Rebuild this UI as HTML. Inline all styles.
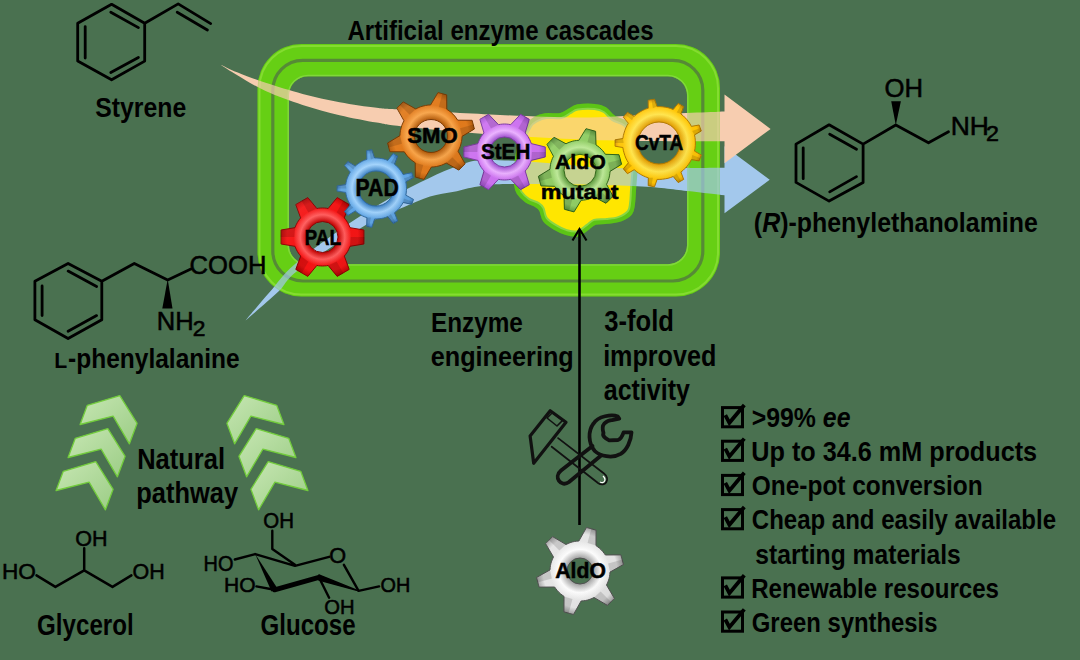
<!DOCTYPE html><html><head><meta charset="utf-8"><style>
html,body{margin:0;padding:0;background:#4a7150;width:1080px;height:660px;overflow:hidden}
svg{display:block}
text{font-family:"Liberation Sans",sans-serif}
</style></head><body>
<svg width="1080" height="660" viewBox="0 0 1080 660">
<defs>
<linearGradient id="gChev" x1="0" y1="0" x2="1" y2="1"><stop offset="0" stop-color="#c6e6b2"/><stop offset="1" stop-color="#9ccd86"/></linearGradient>
<linearGradient id="lit" x1="0" y1="0" x2="1" y2="1"><stop offset="0" stop-color="#fff" stop-opacity="0.12"/><stop offset="0.5" stop-color="#fff" stop-opacity="0"/><stop offset="1" stop-color="#000" stop-opacity="0.10"/></linearGradient>
</defs>

<g opacity="1.00">
<path d="M301.5,44.0 h374.5 a44.0,44.0 0 0 1 44.0,44.0 v164.5 a44.0,44.0 0 0 1 -44.0,44.0 h-374.5 a44.0,44.0 0 0 1 -44.0,-44.0 v-164.5 a44.0,44.0 0 0 1 44.0,-44.0 Z M308.0,76.2 h360.0 a19.0,19.0 0 0 1 19.0,19.0 v150.0 a19.0,19.0 0 0 1 -19.0,19.0 h-360.0 a19.0,19.0 0 0 1 -19.0,-19.0 v-150.0 a19.0,19.0 0 0 1 19.0,-19.0 Z" fill="#66cf14" fill-rule="evenodd"/>
<path d="M301.5,46.0 h374.5 a42.0,42.0 0 0 1 42.0,42.0 v164.5 a42.0,42.0 0 0 1 -42.0,42.0 h-374.5 a42.0,42.0 0 0 1 -42.0,-42.0 v-164.5 a42.0,42.0 0 0 1 42.0,-42.0 Z" fill="none" stroke="#84dc30" stroke-width="2"/>
<rect x="272.8" y="60.3" width="430" height="220.7" rx="30" fill="none" stroke="#568a36" stroke-width="3.2"/>
<path d="M308.2,75.4 h359.6 a20.0,20.0 0 0 1 20.0,20.0 v149.6 a20.0,20.0 0 0 1 -20.0,20.0 h-359.6 a20.0,20.0 0 0 1 -20.0,-20.0 v-149.6 a20.0,20.0 0 0 1 20.0,-20.0 Z" fill="none" stroke="#80d83a" stroke-width="1.5"/>
</g>
<g opacity="1.00">
<path d="M535.6,119.0 C538.3,117.5 541.1,116.4 545.3,115.8 C549.5,115.2 556.5,116.4 560.7,115.5 C564.9,114.6 567.4,112.0 570.3,110.6 C573.1,109.2 573.8,107.6 577.9,106.9 C582.1,106.2 590.8,106.0 595.2,106.5 C599.7,106.9 601.8,107.8 604.9,109.6 C607.9,111.5 609.9,115.5 613.5,117.8 C617.0,120.2 622.7,120.7 626.1,123.8 C629.5,126.8 632.2,130.2 633.8,136.3 C635.3,142.4 635.5,151.6 635.4,160.4 C635.4,169.2 634.0,181.9 633.5,189.2 C633.0,196.5 633.0,200.1 632.4,204.1 C631.8,208.0 632.0,210.3 630.0,212.8 C627.9,215.3 623.7,217.6 620.0,219.1 C616.2,220.5 611.5,220.7 607.3,221.3 C603.2,221.8 598.1,221.3 594.8,222.4 C591.5,223.4 590.4,225.5 587.5,227.5 C584.6,229.4 581.1,233.0 577.5,233.9 C574.0,234.8 570.0,233.7 566.3,232.6 C562.6,231.6 558.7,229.7 555.2,227.6 C551.7,225.4 547.5,222.9 545.3,220.0 C543.0,217.0 543.1,212.4 541.7,209.9 C540.3,207.4 539.3,206.6 536.7,205.0 C534.2,203.3 529.6,202.2 526.6,200.1 C523.7,198.1 520.8,195.4 519.1,192.7 C517.4,190.0 517.0,188.6 516.5,184.0 C516.1,179.4 515.8,172.3 516.6,165.2 C517.4,158.1 519.3,147.9 521.3,141.2 C523.3,134.5 526.5,128.5 528.9,124.8 C531.3,121.1 532.9,120.5 535.6,119.0 Z" fill="#66cc1e" stroke="#5cc416" stroke-width="5.2" stroke-linejoin="round"/>
<path d="M537.2,121.1 C539.9,119.6 542.5,118.5 546.6,118.0 C550.6,117.5 557.4,118.8 561.4,118.0 C565.4,117.2 567.8,114.6 570.5,113.2 C573.2,111.8 573.8,110.2 577.8,109.5 C581.8,108.8 590.2,108.6 594.5,109.0 C598.8,109.4 600.8,110.2 603.8,112.0 C606.7,113.8 608.6,117.7 612.0,119.9 C615.4,122.2 620.9,122.6 624.2,125.5 C627.4,128.5 630.1,131.7 631.5,137.6 C633.0,143.5 632.9,152.4 632.9,160.8 C632.8,169.3 631.5,181.4 631.1,188.4 C630.6,195.3 630.7,198.9 630.1,202.7 C629.6,206.5 629.9,208.8 627.9,211.2 C625.9,213.6 621.9,215.8 618.2,217.1 C614.6,218.4 610.0,218.6 606.0,219.1 C601.9,219.5 597.1,218.9 593.9,219.9 C590.8,220.9 589.7,223.0 587.0,224.9 C584.2,226.8 580.9,230.4 577.5,231.3 C574.1,232.2 570.3,231.1 566.7,230.1 C563.1,229.0 559.4,227.2 556.1,225.1 C552.7,223.1 548.7,220.6 546.6,217.8 C544.5,214.9 544.7,210.4 543.4,208.0 C542.1,205.5 541.1,204.8 538.7,203.2 C536.3,201.7 531.7,200.7 528.8,198.8 C526.0,196.9 523.2,194.3 521.5,191.8 C519.9,189.2 519.5,187.8 519.1,183.4 C518.7,179.0 518.4,172.2 519.2,165.4 C519.9,158.6 521.7,148.9 523.6,142.4 C525.5,136.0 528.5,130.2 530.8,126.6 C533.0,123.0 534.6,122.5 537.2,121.1 Z" fill="#ffe600" stroke="#8ad644" stroke-width="2" stroke-linejoin="round"/>
</g>
<path d="M245.5,320.5 C249.6,315.7 261.8,301.1 270.0,291.8 C278.2,282.5 281.3,275.9 294.5,264.5 C307.7,253.1 330.6,236.0 349.0,223.6 C367.4,211.2 385.5,200.1 405.0,190.0 C424.5,179.9 449.3,167.8 466.0,162.9 C482.7,158.0 489.3,160.3 505.0,160.5 C520.7,160.7 542.5,162.8 560.0,164.0 C577.5,165.2 582.6,167.4 610.0,168.0 C637.4,168.6 705.4,167.8 724.5,167.7 L724.5,146.3 L769.7,179.8 L724.5,213.3 L724.5,195.3 C718.2,194.6 702.4,192.6 687.0,191.0 C671.6,189.4 661.0,187.2 632.0,186.0 C603.0,184.8 538.7,183.9 513.0,184.0 C487.3,184.1 487.8,185.1 478.0,186.4 C468.2,187.7 462.0,190.1 454.0,191.8 C446.0,193.5 438.4,194.0 430.0,196.6 C421.6,199.2 413.9,202.8 403.6,207.3 C393.3,211.8 385.7,213.2 368.2,223.6 C350.7,234.0 313.6,258.6 298.6,270.0 C283.6,281.4 287.1,283.4 278.2,291.8 C269.3,300.2 250.9,315.7 245.5,320.5 Z" fill="#a3c8ec"/>
<path d="M219.3,63.9 C222.4,65.3 230.1,69.4 237.8,72.6 C245.5,75.8 254.8,79.2 265.6,82.8 C276.4,86.3 290.3,90.7 302.6,93.9 C314.9,97.1 327.2,99.9 339.6,102.2 C352.0,104.5 366.5,106.6 376.7,107.8 C386.9,109.0 381.8,108.5 400.7,109.6 C419.6,110.7 460.1,113.2 490.0,114.5 C519.9,115.8 553.3,117.5 580.0,117.5 C606.7,117.5 625.9,115.5 650.0,114.5 C674.1,113.5 712.1,112.0 724.5,111.5 L724.5,94.5 L770.6,128.9 L724.5,163.3 L724.5,141.2 C712.1,141.2 674.1,141.3 650.0,141.0 C625.9,140.7 606.7,140.5 580.0,139.4 C553.3,138.3 519.9,136.7 490.0,134.5 C460.1,132.3 419.6,128.3 400.7,126.3 C381.8,124.3 386.9,124.4 376.7,122.6 C366.5,120.8 352.0,118.1 339.6,115.2 C327.2,112.3 314.9,109.0 302.6,105.0 C290.3,101.0 276.4,96.0 265.6,91.1 C254.8,86.2 245.5,79.9 237.8,75.4 C230.1,70.9 222.4,65.8 219.3,63.9 Z" fill="#f7cdb0"/>
<g opacity="0.30">
<path d="M301.5,44.0 h374.5 a44.0,44.0 0 0 1 44.0,44.0 v164.5 a44.0,44.0 0 0 1 -44.0,44.0 h-374.5 a44.0,44.0 0 0 1 -44.0,-44.0 v-164.5 a44.0,44.0 0 0 1 44.0,-44.0 Z M308.0,76.2 h360.0 a19.0,19.0 0 0 1 19.0,19.0 v150.0 a19.0,19.0 0 0 1 -19.0,19.0 h-360.0 a19.0,19.0 0 0 1 -19.0,-19.0 v-150.0 a19.0,19.0 0 0 1 19.0,-19.0 Z" fill="#66cf14" fill-rule="evenodd"/>
<path d="M301.5,46.0 h374.5 a42.0,42.0 0 0 1 42.0,42.0 v164.5 a42.0,42.0 0 0 1 -42.0,42.0 h-374.5 a42.0,42.0 0 0 1 -42.0,-42.0 v-164.5 a42.0,42.0 0 0 1 42.0,-42.0 Z" fill="none" stroke="#84dc30" stroke-width="2"/>
<rect x="272.8" y="60.3" width="430" height="220.7" rx="30" fill="none" stroke="#568a36" stroke-width="3.2"/>
<path d="M308.2,75.4 h359.6 a20.0,20.0 0 0 1 20.0,20.0 v149.6 a20.0,20.0 0 0 1 -20.0,20.0 h-359.6 a20.0,20.0 0 0 1 -20.0,-20.0 v-149.6 a20.0,20.0 0 0 1 20.0,-20.0 Z" fill="none" stroke="#80d83a" stroke-width="1.5"/>
</g>
<g opacity="0.38">
<path d="M535.6,119.0 C538.3,117.5 541.1,116.4 545.3,115.8 C549.5,115.2 556.5,116.4 560.7,115.5 C564.9,114.6 567.4,112.0 570.3,110.6 C573.1,109.2 573.8,107.6 577.9,106.9 C582.1,106.2 590.8,106.0 595.2,106.5 C599.7,106.9 601.8,107.8 604.9,109.6 C607.9,111.5 609.9,115.5 613.5,117.8 C617.0,120.2 622.7,120.7 626.1,123.8 C629.5,126.8 632.2,130.2 633.8,136.3 C635.3,142.4 635.5,151.6 635.4,160.4 C635.4,169.2 634.0,181.9 633.5,189.2 C633.0,196.5 633.0,200.1 632.4,204.1 C631.8,208.0 632.0,210.3 630.0,212.8 C627.9,215.3 623.7,217.6 620.0,219.1 C616.2,220.5 611.5,220.7 607.3,221.3 C603.2,221.8 598.1,221.3 594.8,222.4 C591.5,223.4 590.4,225.5 587.5,227.5 C584.6,229.4 581.1,233.0 577.5,233.9 C574.0,234.8 570.0,233.7 566.3,232.6 C562.6,231.6 558.7,229.7 555.2,227.6 C551.7,225.4 547.5,222.9 545.3,220.0 C543.0,217.0 543.1,212.4 541.7,209.9 C540.3,207.4 539.3,206.6 536.7,205.0 C534.2,203.3 529.6,202.2 526.6,200.1 C523.7,198.1 520.8,195.4 519.1,192.7 C517.4,190.0 517.0,188.6 516.5,184.0 C516.1,179.4 515.8,172.3 516.6,165.2 C517.4,158.1 519.3,147.9 521.3,141.2 C523.3,134.5 526.5,128.5 528.9,124.8 C531.3,121.1 532.9,120.5 535.6,119.0 Z" fill="#66cc1e" stroke="#5cc416" stroke-width="5.2" stroke-linejoin="round"/>
<path d="M537.2,121.1 C539.9,119.6 542.5,118.5 546.6,118.0 C550.6,117.5 557.4,118.8 561.4,118.0 C565.4,117.2 567.8,114.6 570.5,113.2 C573.2,111.8 573.8,110.2 577.8,109.5 C581.8,108.8 590.2,108.6 594.5,109.0 C598.8,109.4 600.8,110.2 603.8,112.0 C606.7,113.8 608.6,117.7 612.0,119.9 C615.4,122.2 620.9,122.6 624.2,125.5 C627.4,128.5 630.1,131.7 631.5,137.6 C633.0,143.5 632.9,152.4 632.9,160.8 C632.8,169.3 631.5,181.4 631.1,188.4 C630.6,195.3 630.7,198.9 630.1,202.7 C629.6,206.5 629.9,208.8 627.9,211.2 C625.9,213.6 621.9,215.8 618.2,217.1 C614.6,218.4 610.0,218.6 606.0,219.1 C601.9,219.5 597.1,218.9 593.9,219.9 C590.8,220.9 589.7,223.0 587.0,224.9 C584.2,226.8 580.9,230.4 577.5,231.3 C574.1,232.2 570.3,231.1 566.7,230.1 C563.1,229.0 559.4,227.2 556.1,225.1 C552.7,223.1 548.7,220.6 546.6,217.8 C544.5,214.9 544.7,210.4 543.4,208.0 C542.1,205.5 541.1,204.8 538.7,203.2 C536.3,201.7 531.7,200.7 528.8,198.8 C526.0,196.9 523.2,194.3 521.5,191.8 C519.9,189.2 519.5,187.8 519.1,183.4 C518.7,179.0 518.4,172.2 519.2,165.4 C519.9,158.6 521.7,148.9 523.6,142.4 C525.5,136.0 528.5,130.2 530.8,126.6 C533.0,123.0 534.6,122.5 537.2,121.1 Z" fill="#ffe600" stroke="#8ad644" stroke-width="2" stroke-linejoin="round"/>
</g>
<radialGradient id="gr1" gradientUnits="userSpaceOnUse" cx="322.5" cy="237.0" r="42.0"><stop offset="0.369" stop-color="#c00000"/><stop offset="0.530" stop-color="#ff5a5a"/><stop offset="0.690" stop-color="#f41010"/><stop offset="0.845" stop-color="#f41010"/><stop offset="1" stop-color="#c00000"/></radialGradient>
<path d="M350.0,227.7 L363.9,230.0 L363.9,244.0 L350.0,246.3 L349.3,248.1 L348.5,249.8 L347.6,251.5 L346.6,253.1 L345.5,254.6 L344.3,256.1 L349.2,269.4 L337.2,276.4 L328.1,265.4 L326.3,265.8 L324.4,265.9 L322.5,266.0 L320.6,265.9 L318.7,265.8 L316.9,265.4 L307.8,276.4 L295.8,269.4 L300.7,256.1 L299.5,254.6 L298.4,253.1 L297.4,251.5 L296.5,249.8 L295.7,248.1 L295.0,246.3 L281.1,244.0 L281.1,230.0 L295.0,227.7 L295.7,225.9 L296.5,224.2 L297.4,222.5 L298.4,220.9 L299.5,219.4 L300.7,217.9 L295.8,204.6 L307.8,197.6 L316.9,208.6 L318.7,208.2 L320.6,208.1 L322.5,208.0 L324.4,208.1 L326.3,208.2 L328.1,208.6 L337.2,197.6 L349.2,204.6 L344.3,217.9 L345.5,219.4 L346.6,220.9 L347.6,222.5 L348.5,224.2 L349.3,225.9 Z M307.0,237.0 a15.5,15.5 0 1,0 31.0,0 a15.5,15.5 0 1,0 -31.0,0 Z" fill="url(#gr1)" fill-rule="evenodd" stroke="#900000" stroke-width="1" stroke-linejoin="round"/>
<path d="M350.0,227.7 L363.9,230.0 L363.9,244.0 L350.0,246.3 L349.3,248.1 L348.5,249.8 L347.6,251.5 L346.6,253.1 L345.5,254.6 L344.3,256.1 L349.2,269.4 L337.2,276.4 L328.1,265.4 L326.3,265.8 L324.4,265.9 L322.5,266.0 L320.6,265.9 L318.7,265.8 L316.9,265.4 L307.8,276.4 L295.8,269.4 L300.7,256.1 L299.5,254.6 L298.4,253.1 L297.4,251.5 L296.5,249.8 L295.7,248.1 L295.0,246.3 L281.1,244.0 L281.1,230.0 L295.0,227.7 L295.7,225.9 L296.5,224.2 L297.4,222.5 L298.4,220.9 L299.5,219.4 L300.7,217.9 L295.8,204.6 L307.8,197.6 L316.9,208.6 L318.7,208.2 L320.6,208.1 L322.5,208.0 L324.4,208.1 L326.3,208.2 L328.1,208.6 L337.2,197.6 L349.2,204.6 L344.3,217.9 L345.5,219.4 L346.6,220.9 L347.6,222.5 L348.5,224.2 L349.3,225.9 Z M307.0,237.0 a15.5,15.5 0 1,0 31.0,0 a15.5,15.5 0 1,0 -31.0,0 Z" fill="url(#lit)" fill-rule="evenodd"/>
<path d="M350.6,237.0 L364.5,237.0 L363.9,244.0 L350.0,246.3 Z M336.6,261.4 L343.5,273.4 L337.2,276.4 L328.1,265.4 Z M308.4,261.4 L301.5,273.4 L295.8,269.4 L300.7,256.1 Z M294.4,237.0 L280.5,237.0 L281.1,230.0 L295.0,227.7 Z M308.4,212.6 L301.5,200.6 L307.8,197.6 L316.9,208.6 Z M336.6,212.6 L343.5,200.6 L349.2,204.6 L344.3,217.9 Z" fill="#000" opacity="0.13"/>
<radialGradient id="gr2" gradientUnits="userSpaceOnUse" cx="376.0" cy="188.5" r="39.0"><stop offset="0.449" stop-color="#3a80c4"/><stop offset="0.615" stop-color="#a0d2fc"/><stop offset="0.782" stop-color="#5ea4e4"/><stop offset="0.891" stop-color="#5ea4e4"/><stop offset="1" stop-color="#3a80c4"/></radialGradient>
<path d="M345.7,192.4 L337.1,191.1 L337.1,185.9 L345.7,184.6 L346.1,182.4 L346.6,180.2 L347.3,178.1 L348.2,176.0 L349.2,174.0 L350.3,172.0 L344.5,165.5 L347.9,161.5 L355.3,166.1 L357.0,164.6 L358.8,163.3 L360.8,162.1 L362.7,161.0 L364.8,160.1 L366.9,159.4 L366.7,150.6 L371.8,149.7 L374.6,158.0 L376.8,158.0 L379.1,158.2 L381.3,158.5 L383.5,158.9 L385.7,159.6 L387.8,160.4 L393.2,153.5 L397.7,156.1 L394.5,164.2 L396.2,165.7 L397.9,167.2 L399.4,168.9 L400.7,170.7 L402.0,172.5 L403.1,174.5 L411.7,172.7 L413.5,177.6 L405.8,181.8 L406.2,184.0 L406.4,186.3 L406.5,188.5 L406.4,190.7 L406.2,193.0 L405.8,195.2 L413.5,199.4 L411.7,204.3 L403.1,202.5 L402.0,204.5 L400.7,206.3 L399.4,208.1 L397.9,209.8 L396.2,211.3 L394.5,212.8 L397.7,220.9 L393.2,223.5 L387.8,216.6 L385.7,217.4 L383.5,218.1 L381.3,218.5 L379.1,218.8 L376.8,219.0 L374.6,219.0 L371.8,227.3 L366.7,226.4 L366.9,217.6 L364.8,216.9 L362.7,216.0 L360.8,214.9 L358.8,213.7 L357.0,212.4 L355.3,210.9 L347.9,215.5 L344.5,211.5 L350.3,205.0 L349.2,203.0 L348.2,201.0 L347.3,198.9 L346.6,196.8 L346.1,194.6 Z M358.5,188.5 a17.5,17.5 0 1,0 35.0,0 a17.5,17.5 0 1,0 -35.0,0 Z" fill="url(#gr2)" fill-rule="evenodd" stroke="#30689c" stroke-width="1" stroke-linejoin="round"/>
<path d="M345.7,192.4 L337.1,191.1 L337.1,185.9 L345.7,184.6 L346.1,182.4 L346.6,180.2 L347.3,178.1 L348.2,176.0 L349.2,174.0 L350.3,172.0 L344.5,165.5 L347.9,161.5 L355.3,166.1 L357.0,164.6 L358.8,163.3 L360.8,162.1 L362.7,161.0 L364.8,160.1 L366.9,159.4 L366.7,150.6 L371.8,149.7 L374.6,158.0 L376.8,158.0 L379.1,158.2 L381.3,158.5 L383.5,158.9 L385.7,159.6 L387.8,160.4 L393.2,153.5 L397.7,156.1 L394.5,164.2 L396.2,165.7 L397.9,167.2 L399.4,168.9 L400.7,170.7 L402.0,172.5 L403.1,174.5 L411.7,172.7 L413.5,177.6 L405.8,181.8 L406.2,184.0 L406.4,186.3 L406.5,188.5 L406.4,190.7 L406.2,193.0 L405.8,195.2 L413.5,199.4 L411.7,204.3 L403.1,202.5 L402.0,204.5 L400.7,206.3 L399.4,208.1 L397.9,209.8 L396.2,211.3 L394.5,212.8 L397.7,220.9 L393.2,223.5 L387.8,216.6 L385.7,217.4 L383.5,218.1 L381.3,218.5 L379.1,218.8 L376.8,219.0 L374.6,219.0 L371.8,227.3 L366.7,226.4 L366.9,217.6 L364.8,216.9 L362.7,216.0 L360.8,214.9 L358.8,213.7 L357.0,212.4 L355.3,210.9 L347.9,215.5 L344.5,211.5 L350.3,205.0 L349.2,203.0 L348.2,201.0 L347.3,198.9 L346.6,196.8 L346.1,194.6 Z M358.5,188.5 a17.5,17.5 0 1,0 35.0,0 a17.5,17.5 0 1,0 -35.0,0 Z" fill="url(#lit)" fill-rule="evenodd"/>
<path d="M346.4,188.5 L337.0,188.5 L337.1,185.9 L345.7,184.6 Z M353.3,169.5 L346.1,163.4 L347.9,161.5 L355.3,166.1 Z M370.9,159.4 L369.2,150.1 L371.8,149.7 L374.6,158.0 Z M390.8,162.9 L395.5,154.7 L397.7,156.1 L394.5,164.2 Z M403.8,178.4 L412.6,175.2 L413.5,177.6 L405.8,181.8 Z M403.8,198.6 L412.6,201.8 L411.7,204.3 L403.1,202.5 Z M390.8,214.1 L395.5,222.3 L393.2,223.5 L387.8,216.6 Z M370.9,217.6 L369.2,226.9 L366.7,226.4 L366.9,217.6 Z M353.3,207.5 L346.1,213.6 L344.5,211.5 L350.3,205.0 Z" fill="#000" opacity="0.13"/>
<radialGradient id="gr3" gradientUnits="userSpaceOnUse" cx="431.0" cy="136.0" r="44.0"><stop offset="0.375" stop-color="#b05808"/><stop offset="0.540" stop-color="#f8a448"/><stop offset="0.705" stop-color="#e07818"/><stop offset="0.852" stop-color="#e07818"/><stop offset="1" stop-color="#b05808"/></radialGradient>
<path d="M457.7,120.2 L472.1,120.3 L474.4,129.0 L462.0,136.4 L461.9,139.0 L461.5,141.5 L460.9,144.0 L460.2,146.5 L459.2,148.9 L458.0,151.2 L465.1,163.8 L458.8,170.1 L446.2,163.0 L443.9,164.2 L441.5,165.2 L439.0,165.9 L436.5,166.5 L434.0,166.9 L431.4,167.0 L424.0,179.4 L415.3,177.1 L415.2,162.7 L413.0,161.2 L411.0,159.7 L409.1,157.9 L407.3,156.0 L405.8,154.0 L404.3,151.8 L389.9,151.7 L387.6,143.0 L400.0,135.6 L400.1,133.0 L400.5,130.5 L401.1,128.0 L401.8,125.5 L402.8,123.1 L404.0,120.8 L396.9,108.2 L403.2,101.9 L415.8,109.0 L418.1,107.8 L420.5,106.8 L423.0,106.1 L425.5,105.5 L428.0,105.1 L430.6,105.0 L438.0,92.6 L446.7,94.9 L446.8,109.3 L449.0,110.8 L451.0,112.3 L452.9,114.1 L454.7,116.0 L456.2,118.0 Z M414.5,136.0 a16.5,16.5 0 1,0 33.0,0 a16.5,16.5 0 1,0 -33.0,0 Z" fill="url(#gr3)" fill-rule="evenodd" stroke="#7a3a00" stroke-width="1" stroke-linejoin="round"/>
<path d="M457.7,120.2 L472.1,120.3 L474.4,129.0 L462.0,136.4 L461.9,139.0 L461.5,141.5 L460.9,144.0 L460.2,146.5 L459.2,148.9 L458.0,151.2 L465.1,163.8 L458.8,170.1 L446.2,163.0 L443.9,164.2 L441.5,165.2 L439.0,165.9 L436.5,166.5 L434.0,166.9 L431.4,167.0 L424.0,179.4 L415.3,177.1 L415.2,162.7 L413.0,161.2 L411.0,159.7 L409.1,157.9 L407.3,156.0 L405.8,154.0 L404.3,151.8 L389.9,151.7 L387.6,143.0 L400.0,135.6 L400.1,133.0 L400.5,130.5 L401.1,128.0 L401.8,125.5 L402.8,123.1 L404.0,120.8 L396.9,108.2 L403.2,101.9 L415.8,109.0 L418.1,107.8 L420.5,106.8 L423.0,106.1 L425.5,105.5 L428.0,105.1 L430.6,105.0 L438.0,92.6 L446.7,94.9 L446.8,109.3 L449.0,110.8 L451.0,112.3 L452.9,114.1 L454.7,116.0 L456.2,118.0 Z M414.5,136.0 a16.5,16.5 0 1,0 33.0,0 a16.5,16.5 0 1,0 -33.0,0 Z" fill="url(#lit)" fill-rule="evenodd"/>
<path d="M460.0,128.2 L473.5,124.6 L474.4,129.0 L462.0,136.4 Z M452.3,157.3 L462.1,167.1 L458.8,170.1 L446.2,163.0 Z M423.2,165.0 L419.6,178.5 L415.3,177.1 L415.2,162.7 Z M402.0,143.8 L388.5,147.4 L387.6,143.0 L400.0,135.6 Z M409.7,114.7 L399.9,104.9 L403.2,101.9 L415.8,109.0 Z M438.8,107.0 L442.4,93.5 L446.7,94.9 L446.8,109.3 Z" fill="#000" opacity="0.13"/>
<radialGradient id="gr4" gradientUnits="userSpaceOnUse" cx="504.6" cy="152.0" r="41.0"><stop offset="0.366" stop-color="#a050d0"/><stop offset="0.524" stop-color="#eab0ff"/><stop offset="0.683" stop-color="#cc70f0"/><stop offset="0.841" stop-color="#cc70f0"/><stop offset="1" stop-color="#a050d0"/></radialGradient>
<path d="M531.3,143.6 L545.3,147.0 L545.3,157.0 L531.3,160.4 L530.6,162.3 L529.8,164.2 L528.8,166.0 L527.8,167.7 L526.5,169.4 L525.2,171.0 L529.3,184.7 L520.6,189.7 L510.7,179.3 L508.7,179.7 L506.7,179.9 L504.6,180.0 L502.5,179.9 L500.5,179.7 L498.5,179.3 L488.6,189.7 L479.9,184.7 L484.0,171.0 L482.7,169.4 L481.4,167.7 L480.4,166.0 L479.4,164.2 L478.6,162.3 L477.9,160.4 L463.9,157.0 L463.9,147.0 L477.9,143.6 L478.6,141.7 L479.4,139.8 L480.4,138.0 L481.4,136.3 L482.7,134.6 L484.0,133.0 L479.9,119.3 L488.6,114.3 L498.5,124.7 L500.5,124.3 L502.5,124.1 L504.6,124.0 L506.7,124.1 L508.7,124.3 L510.7,124.7 L520.6,114.3 L529.3,119.3 L525.2,133.0 L526.5,134.6 L527.8,136.3 L528.8,138.0 L529.8,139.8 L530.6,141.7 Z M489.6,152.0 a15.0,15.0 0 1,0 30.0,0 a15.0,15.0 0 1,0 -30.0,0 Z" fill="url(#gr4)" fill-rule="evenodd" stroke="#7a3aa0" stroke-width="1" stroke-linejoin="round"/>
<path d="M531.3,143.6 L545.3,147.0 L545.3,157.0 L531.3,160.4 L530.6,162.3 L529.8,164.2 L528.8,166.0 L527.8,167.7 L526.5,169.4 L525.2,171.0 L529.3,184.7 L520.6,189.7 L510.7,179.3 L508.7,179.7 L506.7,179.9 L504.6,180.0 L502.5,179.9 L500.5,179.7 L498.5,179.3 L488.6,189.7 L479.9,184.7 L484.0,171.0 L482.7,169.4 L481.4,167.7 L480.4,166.0 L479.4,164.2 L478.6,162.3 L477.9,160.4 L463.9,157.0 L463.9,147.0 L477.9,143.6 L478.6,141.7 L479.4,139.8 L480.4,138.0 L481.4,136.3 L482.7,134.6 L484.0,133.0 L479.9,119.3 L488.6,114.3 L498.5,124.7 L500.5,124.3 L502.5,124.1 L504.6,124.0 L506.7,124.1 L508.7,124.3 L510.7,124.7 L520.6,114.3 L529.3,119.3 L525.2,133.0 L526.5,134.6 L527.8,136.3 L528.8,138.0 L529.8,139.8 L530.6,141.7 Z M489.6,152.0 a15.0,15.0 0 1,0 30.0,0 a15.0,15.0 0 1,0 -30.0,0 Z" fill="url(#lit)" fill-rule="evenodd"/>
<path d="M531.8,152.0 L545.6,152.0 L545.3,157.0 L531.3,160.4 Z M518.2,175.5 L525.1,187.5 L520.6,189.7 L510.7,179.3 Z M491.0,175.5 L484.1,187.5 L479.9,184.7 L484.0,171.0 Z M477.4,152.0 L463.6,152.0 L463.9,147.0 L477.9,143.6 Z M491.0,128.5 L484.1,116.5 L488.6,114.3 L498.5,124.7 Z M518.2,128.5 L525.1,116.5 L529.3,119.3 L525.2,133.0 Z" fill="#000" opacity="0.13"/>
<radialGradient id="gr5" gradientUnits="userSpaceOnUse" cx="580.0" cy="170.3" r="42.0"><stop offset="0.381" stop-color="#5c9a3c"/><stop offset="0.548" stop-color="#bce896"/><stop offset="0.714" stop-color="#8ecc62"/><stop offset="0.857" stop-color="#8ecc62"/><stop offset="1" stop-color="#5c9a3c"/></radialGradient>
<path d="M605.4,154.3 L619.0,154.7 L621.6,164.3 L610.0,171.4 L609.8,173.7 L609.5,175.9 L609.0,178.1 L608.3,180.2 L607.5,182.3 L606.5,184.3 L613.0,196.3 L606.0,203.3 L594.0,196.8 L592.0,197.8 L589.9,198.6 L587.8,199.3 L585.6,199.8 L583.4,200.1 L581.1,200.3 L574.0,211.9 L564.4,209.3 L564.0,195.7 L562.2,194.4 L560.4,193.0 L558.8,191.5 L557.3,189.9 L555.9,188.1 L554.6,186.3 L541.0,185.9 L538.4,176.3 L550.0,169.2 L550.2,166.9 L550.5,164.7 L551.0,162.5 L551.7,160.4 L552.5,158.3 L553.5,156.3 L547.0,144.3 L554.0,137.3 L566.0,143.8 L568.0,142.8 L570.1,142.0 L572.2,141.3 L574.4,140.8 L576.6,140.5 L578.9,140.3 L586.0,128.7 L595.6,131.3 L596.0,144.9 L597.8,146.2 L599.6,147.6 L601.2,149.1 L602.7,150.7 L604.1,152.5 Z M564.0,170.3 a16.0,16.0 0 1,0 32.0,0 a16.0,16.0 0 1,0 -32.0,0 Z" fill="url(#gr5)" fill-rule="evenodd" stroke="#2f6418" stroke-width="1" stroke-linejoin="round"/>
<path d="M605.4,154.3 L619.0,154.7 L621.6,164.3 L610.0,171.4 L609.8,173.7 L609.5,175.9 L609.0,178.1 L608.3,180.2 L607.5,182.3 L606.5,184.3 L613.0,196.3 L606.0,203.3 L594.0,196.8 L592.0,197.8 L589.9,198.6 L587.8,199.3 L585.6,199.8 L583.4,200.1 L581.1,200.3 L574.0,211.9 L564.4,209.3 L564.0,195.7 L562.2,194.4 L560.4,193.0 L558.8,191.5 L557.3,189.9 L555.9,188.1 L554.6,186.3 L541.0,185.9 L538.4,176.3 L550.0,169.2 L550.2,166.9 L550.5,164.7 L551.0,162.5 L551.7,160.4 L552.5,158.3 L553.5,156.3 L547.0,144.3 L554.0,137.3 L566.0,143.8 L568.0,142.8 L570.1,142.0 L572.2,141.3 L574.4,140.8 L576.6,140.5 L578.9,140.3 L586.0,128.7 L595.6,131.3 L596.0,144.9 L597.8,146.2 L599.6,147.6 L601.2,149.1 L602.7,150.7 L604.1,152.5 Z M564.0,170.3 a16.0,16.0 0 1,0 32.0,0 a16.0,16.0 0 1,0 -32.0,0 Z" fill="url(#lit)" fill-rule="evenodd"/>
<path d="M608.1,162.8 L620.6,159.4 L621.6,164.3 L610.0,171.4 Z M600.6,190.9 L609.7,200.0 L606.0,203.3 L594.0,196.8 Z M572.5,198.4 L569.1,210.9 L564.4,209.3 L564.0,195.7 Z M551.9,177.8 L539.4,181.2 L538.4,176.3 L550.0,169.2 Z M559.4,149.7 L550.3,140.6 L554.0,137.3 L566.0,143.8 Z M587.5,142.2 L590.9,129.7 L595.6,131.3 L596.0,144.9 Z" fill="#000" opacity="0.13"/>
<radialGradient id="gr6" gradientUnits="userSpaceOnUse" cx="659.0" cy="143.0" r="44.0"><stop offset="0.477" stop-color="#e09a00"/><stop offset="0.652" stop-color="#ffe44a"/><stop offset="0.827" stop-color="#ffc400"/><stop offset="0.914" stop-color="#ffc400"/><stop offset="1" stop-color="#e09a00"/></radialGradient>
<path d="M622.9,147.5 L615.1,146.2 L615.1,139.8 L622.9,138.5 L623.3,135.8 L624.0,133.2 L624.8,130.6 L625.8,128.0 L627.0,125.6 L628.4,123.2 L623.3,117.2 L627.4,112.3 L634.2,116.3 L636.3,114.6 L638.5,112.9 L640.8,111.5 L643.2,110.2 L645.7,109.1 L648.3,108.2 L648.2,100.3 L654.5,99.2 L657.1,106.6 L659.9,106.6 L662.6,106.8 L665.3,107.2 L668.0,107.7 L670.6,108.5 L673.2,109.5 L678.2,103.4 L683.7,106.6 L680.9,114.0 L683.1,115.7 L685.0,117.6 L686.9,119.6 L688.6,121.8 L690.1,124.0 L691.4,126.4 L699.1,125.0 L701.3,131.0 L694.5,134.9 L695.0,137.5 L695.3,140.3 L695.4,143.0 L695.3,145.7 L695.0,148.5 L694.5,151.1 L701.3,155.0 L699.1,161.0 L691.4,159.6 L690.1,162.0 L688.6,164.2 L686.9,166.4 L685.0,168.4 L683.1,170.3 L680.9,172.0 L683.7,179.4 L678.2,182.6 L673.2,176.5 L670.6,177.5 L668.0,178.3 L665.3,178.8 L662.6,179.2 L659.9,179.4 L657.1,179.4 L654.5,186.8 L648.2,185.7 L648.3,177.8 L645.7,176.9 L643.2,175.8 L640.8,174.5 L638.5,173.1 L636.3,171.4 L634.2,169.7 L627.4,173.7 L623.3,168.8 L628.4,162.8 L627.0,160.4 L625.8,158.0 L624.8,155.4 L624.0,152.8 L623.3,150.2 Z M638.0,143.0 a21.0,21.0 0 1,0 42.0,0 a21.0,21.0 0 1,0 -42.0,0 Z" fill="url(#gr6)" fill-rule="evenodd" stroke="#b07800" stroke-width="1" stroke-linejoin="round"/>
<path d="M622.9,147.5 L615.1,146.2 L615.1,139.8 L622.9,138.5 L623.3,135.8 L624.0,133.2 L624.8,130.6 L625.8,128.0 L627.0,125.6 L628.4,123.2 L623.3,117.2 L627.4,112.3 L634.2,116.3 L636.3,114.6 L638.5,112.9 L640.8,111.5 L643.2,110.2 L645.7,109.1 L648.3,108.2 L648.2,100.3 L654.5,99.2 L657.1,106.6 L659.9,106.6 L662.6,106.8 L665.3,107.2 L668.0,107.7 L670.6,108.5 L673.2,109.5 L678.2,103.4 L683.7,106.6 L680.9,114.0 L683.1,115.7 L685.0,117.6 L686.9,119.6 L688.6,121.8 L690.1,124.0 L691.4,126.4 L699.1,125.0 L701.3,131.0 L694.5,134.9 L695.0,137.5 L695.3,140.3 L695.4,143.0 L695.3,145.7 L695.0,148.5 L694.5,151.1 L701.3,155.0 L699.1,161.0 L691.4,159.6 L690.1,162.0 L688.6,164.2 L686.9,166.4 L685.0,168.4 L683.1,170.3 L680.9,172.0 L683.7,179.4 L678.2,182.6 L673.2,176.5 L670.6,177.5 L668.0,178.3 L665.3,178.8 L662.6,179.2 L659.9,179.4 L657.1,179.4 L654.5,186.8 L648.2,185.7 L648.3,177.8 L645.7,176.9 L643.2,175.8 L640.8,174.5 L638.5,173.1 L636.3,171.4 L634.2,169.7 L627.4,173.7 L623.3,168.8 L628.4,162.8 L627.0,160.4 L625.8,158.0 L624.8,155.4 L624.0,152.8 L623.3,150.2 Z M638.0,143.0 a21.0,21.0 0 1,0 42.0,0 a21.0,21.0 0 1,0 -42.0,0 Z" fill="url(#lit)" fill-rule="evenodd"/>
<path d="M623.7,143.0 L615.0,143.0 L615.1,139.8 L622.9,138.5 Z M632.0,120.3 L625.3,114.7 L627.4,112.3 L634.2,116.3 Z M652.9,108.2 L651.4,99.7 L654.5,99.2 L657.1,106.6 Z M676.7,112.4 L681.0,104.9 L683.7,106.6 L680.9,114.0 Z M692.2,130.9 L700.3,128.0 L701.3,131.0 L694.5,134.9 Z M692.2,155.1 L700.3,158.0 L699.1,161.0 L691.4,159.6 Z M676.7,173.6 L681.0,181.1 L678.2,182.6 L673.2,176.5 Z M652.9,177.8 L651.4,186.3 L648.2,185.7 L648.3,177.8 Z M632.0,165.7 L625.3,171.3 L623.3,168.8 L628.4,162.8 Z" fill="#000" opacity="0.13"/>
<radialGradient id="gr7" gradientUnits="userSpaceOnUse" cx="580.0" cy="571.0" r="44.0"><stop offset="0.295" stop-color="#a0a0a0"/><stop offset="0.489" stop-color="#fcfcfc"/><stop offset="0.682" stop-color="#e4e4e4"/><stop offset="0.841" stop-color="#e4e4e4"/><stop offset="1" stop-color="#a0a0a0"/></radialGradient>
<path d="M605.4,555.0 L620.9,554.9 L623.5,564.5 L610.0,572.1 L609.8,574.4 L609.5,576.6 L609.0,578.8 L608.3,580.9 L607.5,583.0 L606.5,585.0 L614.4,598.4 L607.4,605.4 L594.0,597.5 L592.0,598.5 L589.9,599.3 L587.8,600.0 L585.6,600.5 L583.4,600.8 L581.1,601.0 L573.5,614.5 L563.9,611.9 L564.0,596.4 L562.2,595.1 L560.4,593.7 L558.8,592.2 L557.3,590.6 L555.9,588.8 L554.6,587.0 L539.1,587.1 L536.5,577.5 L550.0,569.9 L550.2,567.6 L550.5,565.4 L551.0,563.2 L551.7,561.1 L552.5,559.0 L553.5,557.0 L545.6,543.6 L552.6,536.6 L566.0,544.5 L568.0,543.5 L570.1,542.7 L572.2,542.0 L574.4,541.5 L576.6,541.2 L578.9,541.0 L586.5,527.5 L596.1,530.1 L596.0,545.6 L597.8,546.9 L599.6,548.3 L601.2,549.8 L602.7,551.4 L604.1,553.2 Z M567.0,571.0 a13.0,13.0 0 1,0 26.0,0 a13.0,13.0 0 1,0 -26.0,0 Z" fill="url(#gr7)" fill-rule="evenodd" stroke="#505050" stroke-width="1" stroke-linejoin="round"/>
<path d="M605.4,555.0 L620.9,554.9 L623.5,564.5 L610.0,572.1 L609.8,574.4 L609.5,576.6 L609.0,578.8 L608.3,580.9 L607.5,583.0 L606.5,585.0 L614.4,598.4 L607.4,605.4 L594.0,597.5 L592.0,598.5 L589.9,599.3 L587.8,600.0 L585.6,600.5 L583.4,600.8 L581.1,601.0 L573.5,614.5 L563.9,611.9 L564.0,596.4 L562.2,595.1 L560.4,593.7 L558.8,592.2 L557.3,590.6 L555.9,588.8 L554.6,587.0 L539.1,587.1 L536.5,577.5 L550.0,569.9 L550.2,567.6 L550.5,565.4 L551.0,563.2 L551.7,561.1 L552.5,559.0 L553.5,557.0 L545.6,543.6 L552.6,536.6 L566.0,544.5 L568.0,543.5 L570.1,542.7 L572.2,542.0 L574.4,541.5 L576.6,541.2 L578.9,541.0 L586.5,527.5 L596.1,530.1 L596.0,545.6 L597.8,546.9 L599.6,548.3 L601.2,549.8 L602.7,551.4 L604.1,553.2 Z M567.0,571.0 a13.0,13.0 0 1,0 26.0,0 a13.0,13.0 0 1,0 -26.0,0 Z" fill="url(#lit)" fill-rule="evenodd"/>
<path d="M608.1,563.5 L622.5,559.6 L623.5,564.5 L610.0,572.1 Z M600.6,591.6 L611.1,602.1 L607.4,605.4 L594.0,597.5 Z M572.5,599.1 L568.6,613.5 L563.9,611.9 L564.0,596.4 Z M551.9,578.5 L537.5,582.4 L536.5,577.5 L550.0,569.9 Z M559.4,550.4 L548.9,539.9 L552.6,536.6 L566.0,544.5 Z M587.5,542.9 L591.4,528.5 L596.1,530.1 L596.0,545.6 Z" fill="#000" opacity="0.13"/>
<text x="304.58" y="244.50" font-size="21.95" textLength="36.59" lengthAdjust="spacingAndGlyphs" font-weight="bold" fill="#000" stroke="#000" stroke-width="0.5">PAL</text>
<text x="355.53" y="195.70" font-size="23.26" textLength="43.23" lengthAdjust="spacingAndGlyphs" font-weight="bold" fill="#000" stroke="#000" stroke-width="0.5">PAD</text>
<text x="407.16" y="143.30" font-size="21.22" textLength="50.47" lengthAdjust="spacingAndGlyphs" font-weight="bold" fill="#000" stroke="#000" stroke-width="0.5">SMO</text>
<text x="481.01" y="158.90" font-size="22.38" textLength="49.28" lengthAdjust="spacingAndGlyphs" font-weight="bold" fill="#000" stroke="#000" stroke-width="0.5">StEH</text>
<text x="634.94" y="150.40" font-size="21.51" textLength="48.35" lengthAdjust="spacingAndGlyphs" font-weight="bold" fill="#000" stroke="#000" stroke-width="0.5">CvTA</text>
<text x="554.97" y="168.60" font-size="20.78" textLength="50.93" lengthAdjust="spacingAndGlyphs" font-weight="bold" fill="#000" stroke="#000" stroke-width="0.5">AldO</text>
<text x="540.86" y="199.40" font-size="20.78" textLength="77.62" lengthAdjust="spacingAndGlyphs" font-weight="bold" fill="#000" stroke="#000" stroke-width="0.5">mutant</text>
<text x="555.27" y="578.30" font-size="21.80" textLength="50.62" lengthAdjust="spacingAndGlyphs" font-weight="bold" fill="#000" stroke="#000" stroke-width="0.5">AldO</text>
<path d="M111.6,4.3 L144.7,23.3 L144.7,61.1 L111.6,79.8 L77.7,61.1 L77.7,23.3 Z M110.8,12.2 L138.4,27.6 M85.2,26.6 L85.2,58.1 M110.8,72.5 L138.4,57.5 M144.7,23.3 L178.2,3.9 L210.7,23.6 M177.2,12.2 L207.4,30" stroke="#000" stroke-width="2.8" fill="none" stroke-linecap="round" stroke-linejoin="round"/>
<path d="M68.1,263.4 L101.8,281.2 L101.8,319.7 L68.1,338.5 L34.9,319.7 L34.9,281.2 Z M68.1,271.1 L96.6,286.5 M42.1,286 L42.1,315.6 M68.1,331.3 L96.6,315.6 M101.8,281.2 L134.3,263.4 L167.7,280 L190.9,269.1" stroke="#000" stroke-width="2.8" fill="none" stroke-linecap="round" stroke-linejoin="round"/>
<path d="M167.7,279.3 L162.3,308.6 L172.5,308.6 Z" fill="#000"/>
<text x="189.60" y="273.60" font-size="26.16" textLength="76.79" lengthAdjust="spacingAndGlyphs" fill="#000" stroke="#000" stroke-width="0.55">COOH</text>
<text x="156.81" y="329.80" font-size="25.87" textLength="36.88" lengthAdjust="spacingAndGlyphs" fill="#000" stroke="#000" stroke-width="0.55">NH</text>
<text x="192.75" y="335.90" font-size="21.51" textLength="12.70" lengthAdjust="spacingAndGlyphs" fill="#000" stroke="#000" stroke-width="0.55">2</text>
<path d="M829.1,124.8 L863.1,144.1 L863.1,182.4 L829.1,201.1 L796,182.4 L796,144.1 Z M829.7,134.3 L856.5,149.3 M803.2,147.8 L803.2,178.7 M829.7,191.9 L856.5,176.6 M863.1,144.1 L895.8,125 L928.5,142.8 L948.5,131.8" stroke="#000" stroke-width="2.8" fill="none" stroke-linecap="round" stroke-linejoin="round"/>
<path d="M895.8,125 L891.2,101.3 L900.9,101.3 Z" fill="#000"/>
<text x="884.58" y="96.60" font-size="26.45" textLength="38.51" lengthAdjust="spacingAndGlyphs" fill="#000" stroke="#000" stroke-width="0.55">OH</text>
<text x="950.63" y="134.50" font-size="26.45" textLength="38.23" lengthAdjust="spacingAndGlyphs" fill="#000" stroke="#000" stroke-width="0.55">NH</text>
<text x="986.13" y="141.00" font-size="21.51" textLength="12.94" lengthAdjust="spacingAndGlyphs" fill="#000" stroke="#000" stroke-width="0.55">2</text>
<path d="M36.5,575.4 L55.4,586.9 L84.2,570.4 L112.5,586.9 L131.4,575.4 M84.2,570.4 L84.2,548.3" stroke="#000" stroke-width="2.5" fill="none" stroke-linecap="round" stroke-linejoin="round"/>
<text x="2.04" y="578.60" font-size="22.97" textLength="33.94" lengthAdjust="spacingAndGlyphs" fill="#000" stroke="#000" stroke-width="0.55">HO</text>
<text x="132.48" y="578.60" font-size="22.97" textLength="32.16" lengthAdjust="spacingAndGlyphs" fill="#000" stroke="#000" stroke-width="0.55">OH</text>
<text x="75.28" y="545.60" font-size="22.97" textLength="32.27" lengthAdjust="spacingAndGlyphs" fill="#000" stroke="#000" stroke-width="0.55">OH</text>
<path d="M272.3,530.7 L272.3,548.9 L295,564.8 M255.2,554.1 L295,565.9 L329.1,556.8 M343.9,564.8 L358.6,590.9 L379.1,586.4 M255.2,554.1 L234.8,559.5 M274.5,589.8 L256.4,586.4 M318.9,577.3 L329.1,597.7" stroke="#000" stroke-width="2.4" fill="none" stroke-linecap="round" stroke-linejoin="round"/>
<path d="M358.6,590.9 L318.9,575 L318.9,580 Z" fill="#000" stroke="#000" stroke-width="1.5" stroke-linejoin="round"/>
<path d="M318.9,577.3 L274.5,589.8" stroke="#000" stroke-width="5" stroke-linecap="round"/>
<path d="M255.2,554.1 L271.5,591.5 L277.5,588.5 Z" fill="#000"/>
<text x="263.33" y="528.40" font-size="21.51" textLength="30.63" lengthAdjust="spacingAndGlyphs" fill="#000" stroke="#000" stroke-width="0.55">OH</text>
<text x="329.17" y="562.50" font-size="21.22" textLength="16.86" lengthAdjust="spacingAndGlyphs" fill="#000" stroke="#000" stroke-width="0.55">O</text>
<text x="380.46" y="592.00" font-size="20.06" textLength="29.76" lengthAdjust="spacingAndGlyphs" fill="#000" stroke="#000" stroke-width="0.55">OH</text>
<text x="203.57" y="570.50" font-size="22.09" textLength="29.89" lengthAdjust="spacingAndGlyphs" fill="#000" stroke="#000" stroke-width="0.55">HO</text>
<text x="223.98" y="592.00" font-size="20.93" textLength="31.53" lengthAdjust="spacingAndGlyphs" fill="#000" stroke="#000" stroke-width="0.55">HO</text>
<text x="324.34" y="613.60" font-size="21.08" textLength="30.30" lengthAdjust="spacingAndGlyphs" fill="#000" stroke="#000" stroke-width="0.55">OH</text>
<path d="M80.1,424.5 L87.3,405.3 L119.8,395.6 L137.1,423.3 L129.4,443.8 L113.1,416.1 Z" fill="url(#gChev)" stroke="#72cc3c" stroke-width="1.3" stroke-linejoin="round"/>
<path d="M283.9,424.5 L276.7,405.3 L244.2,395.6 L226.9,423.3 L234.6,443.8 L250.9,416.1 Z" fill="url(#gChev)" stroke="#72cc3c" stroke-width="1.3" stroke-linejoin="round"/>
<path d="M68.1,457.5 L75.3,438.3 L107.8,428.6 L125.1,456.3 L117.4,476.8 L101.1,449.1 Z" fill="url(#gChev)" stroke="#72cc3c" stroke-width="1.3" stroke-linejoin="round"/>
<path d="M295.9,457.5 L288.7,438.3 L256.2,428.6 L238.9,456.3 L246.6,476.8 L262.9,449.1 Z" fill="url(#gChev)" stroke="#72cc3c" stroke-width="1.3" stroke-linejoin="round"/>
<path d="M56.1,490.5 L63.3,471.3 L95.8,461.6 L113.1,489.3 L105.4,509.8 L89.1,482.1 Z" fill="url(#gChev)" stroke="#72cc3c" stroke-width="1.3" stroke-linejoin="round"/>
<path d="M307.9,490.5 L300.7,471.3 L268.2,461.6 L250.9,489.3 L258.6,509.8 L274.9,482.1 Z" fill="url(#gChev)" stroke="#72cc3c" stroke-width="1.3" stroke-linejoin="round"/>
<path d="M579.5,525 L579.5,231" stroke="#000" stroke-width="2.6"/>
<path d="M572.5,240.5 L579.5,229 L586.5,240.5" stroke="#000" stroke-width="2.2" fill="none"/>
<path d="M530.1,435.9 L550.2,410.8 L566,422.3 L533.7,463.3 Z" fill="none" stroke="#111" stroke-linejoin="round" stroke-linecap="round" stroke-width="3.2"/>
<path d="M547,418 L552.5,412.5 L562.5,420.5 L557,426 Z" fill="none" stroke="#111" stroke-linejoin="round" stroke-linecap="round" stroke-width="1.6"/>
<path d="M558.1,438.1 L604,473.5 C611,479 605,488 598,483 L551.7,446.7" fill="none" stroke="#111" stroke-linejoin="round" stroke-linecap="round" stroke-width="1.8"/>
<path d="M603,476 C607,480 604,484 600,482" fill="none" stroke="#fff" stroke-width="1.2"/>
<path d="M617.8,416.5 C612,414 598,416 593.4,423.7 C588,431 588,443 594.8,451 C600,456 612,459 620.7,453.9 C627,450 631,441 631.5,432.3 L623.6,432.3 C622,437 621,439 618,440 L609.2,440.3 C605,438 602,436 603.5,433.1 C602,428 603,425 604.2,423.7 C607,421 610,420 612.1,420.1 L619.3,418.7 Z" fill="none" stroke="#111" stroke-linejoin="round" stroke-linecap="round" stroke-width="3.8"/>
<path d="M592.5,446 L561,470.5 C553,477 561,488 569,482 L600.5,456" fill="none" stroke="#111" stroke-linejoin="round" stroke-linecap="round" stroke-width="3.8"/>
<text x="347.50" y="39.60" font-size="28.34" textLength="306.09" lengthAdjust="spacingAndGlyphs" font-weight="bold" fill="#000" >Artificial enzyme cascades</text>
<text x="95.29" y="116.90" font-size="28.34" textLength="90.96" lengthAdjust="spacingAndGlyphs" font-weight="bold" fill="#000" >Styrene</text>
<text x="54.18" y="367.80" font-size="21.51" textLength="12.97" lengthAdjust="spacingAndGlyphs" font-weight="bold" fill="#000" >L</text>
<text x="68.04" y="367.80" font-size="28.34" textLength="171.70" lengthAdjust="spacingAndGlyphs" font-weight="bold" fill="#000" >-phenylalanine</text>
<text x="753.86" y="232.30" font-size="28.34" textLength="283.99" lengthAdjust="spacingAndGlyphs" font-weight="bold" fill="#000" >(<tspan font-style="italic">R</tspan>)-phenylethanolamine</text>
<text x="137.20" y="469.00" font-size="29.51" textLength="87.81" lengthAdjust="spacingAndGlyphs" font-weight="bold" fill="#000" >Natural</text>
<text x="136.32" y="503.00" font-size="29.51" textLength="101.81" lengthAdjust="spacingAndGlyphs" font-weight="bold" fill="#000" >pathway</text>
<text x="37.11" y="635.30" font-size="28.78" textLength="96.50" lengthAdjust="spacingAndGlyphs" font-weight="bold" fill="#000" >Glycerol</text>
<text x="260.61" y="635.00" font-size="28.78" textLength="95.01" lengthAdjust="spacingAndGlyphs" font-weight="bold" fill="#000" >Glucose</text>
<text x="430.97" y="331.70" font-size="28.34" textLength="91.86" lengthAdjust="spacingAndGlyphs" font-weight="bold" fill="#000" >Enzyme</text>
<text x="430.71" y="366.20" font-size="28.34" textLength="143.07" lengthAdjust="spacingAndGlyphs" font-weight="bold" fill="#000" >engineering</text>
<text x="604.31" y="331.30" font-size="28.78" textLength="69.57" lengthAdjust="spacingAndGlyphs" font-weight="bold" fill="#000" >3-fold</text>
<text x="603.15" y="365.80" font-size="28.78" textLength="113.11" lengthAdjust="spacingAndGlyphs" font-weight="bold" fill="#000" >improved</text>
<text x="603.77" y="400.40" font-size="28.78" textLength="86.07" lengthAdjust="spacingAndGlyphs" font-weight="bold" fill="#000" >activity</text>
<text x="751.76" y="427.40" font-size="28.20" textLength="98.73" lengthAdjust="spacingAndGlyphs" font-weight="bold" fill="#000" >&gt;99% <tspan font-style="italic">ee</tspan></text>
<rect x="722.5" y="407.6" width="20" height="19.2" fill="none" stroke="#000" stroke-width="3"/>
<path d="M725.3,415.1 L729.4,422.8 L744.3,405.0" fill="none" stroke="#000" stroke-width="3.8" stroke-linejoin="miter" stroke-miterlimit="3"/>
<text x="751.29" y="461.00" font-size="28.20" textLength="285.85" lengthAdjust="spacingAndGlyphs" font-weight="bold" fill="#000" >Up to 34.6 mM products</text>
<rect x="722.5" y="441.2" width="20" height="19.2" fill="none" stroke="#000" stroke-width="3"/>
<path d="M725.3,448.7 L729.4,456.4 L744.3,438.6" fill="none" stroke="#000" stroke-width="3.8" stroke-linejoin="miter" stroke-miterlimit="3"/>
<text x="751.80" y="495.20" font-size="28.20" textLength="230.82" lengthAdjust="spacingAndGlyphs" font-weight="bold" fill="#000" >One-pot conversion</text>
<rect x="722.5" y="475.4" width="20" height="19.2" fill="none" stroke="#000" stroke-width="3"/>
<path d="M725.3,482.9 L729.4,490.6 L744.3,472.8" fill="none" stroke="#000" stroke-width="3.8" stroke-linejoin="miter" stroke-miterlimit="3"/>
<text x="751.82" y="529.40" font-size="28.20" textLength="304.21" lengthAdjust="spacingAndGlyphs" font-weight="bold" fill="#000" >Cheap and easily available</text>
<rect x="722.5" y="509.6" width="20" height="19.2" fill="none" stroke="#000" stroke-width="3"/>
<path d="M725.3,517.1 L729.4,524.8 L744.3,507.0" fill="none" stroke="#000" stroke-width="3.8" stroke-linejoin="miter" stroke-miterlimit="3"/>
<text x="755.33" y="563.60" font-size="28.20" textLength="205.48" lengthAdjust="spacingAndGlyphs" font-weight="bold" fill="#000" >starting materials</text>
<text x="751.19" y="597.70" font-size="28.20" textLength="247.80" lengthAdjust="spacingAndGlyphs" font-weight="bold" fill="#000" >Renewable resources</text>
<rect x="722.5" y="577.9" width="20" height="19.2" fill="none" stroke="#000" stroke-width="3"/>
<path d="M725.3,585.4 L729.4,593.1 L744.3,575.3" fill="none" stroke="#000" stroke-width="3.8" stroke-linejoin="miter" stroke-miterlimit="3"/>
<text x="751.82" y="631.80" font-size="28.20" textLength="185.66" lengthAdjust="spacingAndGlyphs" font-weight="bold" fill="#000" >Green synthesis</text>
<rect x="722.5" y="612.0" width="20" height="19.2" fill="none" stroke="#000" stroke-width="3"/>
<path d="M725.3,619.5 L729.4,627.2 L744.3,609.4" fill="none" stroke="#000" stroke-width="3.8" stroke-linejoin="miter" stroke-miterlimit="3"/>
</svg></body></html>
